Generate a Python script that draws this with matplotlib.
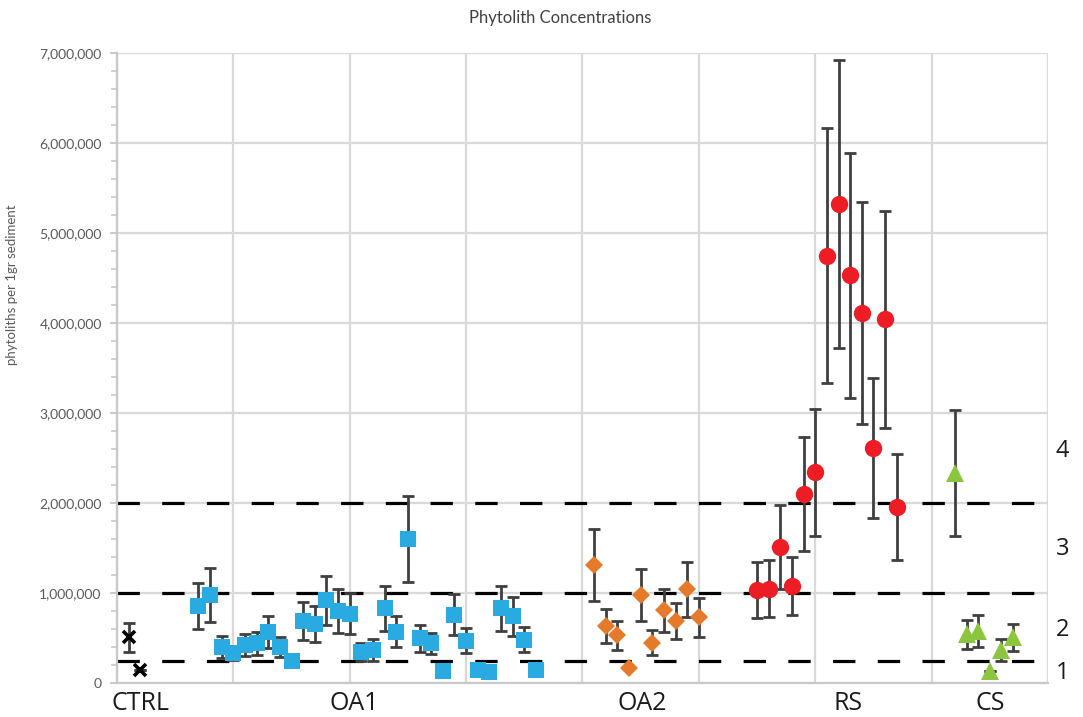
import matplotlib
matplotlib.use("Agg")
import matplotlib.pyplot as plt
from matplotlib.ticker import FuncFormatter, MultipleLocator

# sample index and values (phytoliths per 1 gr sediment) / standard deviations
ctrl_x = [1, 2]
ctrl_y = [510000, 140000]
ctrl_err = [160000, 0]

oa1_x = list(range(7, 37))
oa1_y = [856000, 978000, 400000, 330000, 420000, 440000, 570000, 400000, 240000, 690000,
         660000, 920000, 800000, 770000, 340000, 370000, 830000, 570000, 1600000, 500000,
         440000, 130000, 760000, 470000, 150000, 120000, 830000, 740000, 480000, 140000]
oa1_err = [260000, 300000, 120000, 70000, 120000, 130000, 180000, 110000, 0, 210000,
           200000, 270000, 240000, 230000, 100000, 120000, 250000, 170000, 480000, 150000,
           120000, 0, 230000, 140000, 0, 0, 250000, 220000, 140000, 0]

oa2_x = list(range(41, 51))
oa2_y = [1310000, 630000, 530000, 170000, 980000, 450000, 810000, 690000, 1040000, 730000]
oa2_err = [400000, 190000, 160000, 0, 290000, 140000, 240000, 200000, 310000, 220000]

rs_x = list(range(55, 68))
rs_y = [1030000, 1050000, 1510000, 1080000, 2100000, 2340000, 4750000, 5320000, 4530000,
        4110000, 2610000, 4040000, 1960000]
rs_err = [310000, 320000, 470000, 320000, 630000, 710000, 1420000, 1600000, 1360000,
          1230000, 780000, 1210000, 590000]

cs_x = list(range(72, 78))
cs_y = [2330000, 540000, 580000, 130000, 370000, 510000]
cs_err = [700000, 160000, 180000, 0, 120000, 150000]

thresholds = [2000000, 1000000, 250000]
group_names = ["CTRL", "OA1", "OA2", "RS", "CS"]
group_label_x = [2.0, 20.4, 45.1, 62.8, 75.0]
zone_names = ["4", "3", "2", "1"]
zone_label_y = [2580000, 1490000, 590000, 110000]

fig = plt.figure(figsize=(10.83, 7.17), dpi=100)
ax = fig.add_axes([0.108, 0.0474, 0.8597, 0.8786])

ax.set_xlim(0, 80)
ax.set_ylim(0, 7000000)
ax.xaxis.set_major_locator(MultipleLocator(10))
ax.yaxis.set_major_locator(MultipleLocator(1000000))
ax.yaxis.set_minor_locator(MultipleLocator(200000))
ax.grid(True, which="major", color="#d9d9d9", lw=1.6, zorder=0)
ax.set_axisbelow(True)

for s in ["top", "right"]:
    ax.spines[s].set_visible(False)
for s in ["left", "bottom"]:
    ax.spines[s].set_color("#c8c8c8")
    ax.spines[s].set_linewidth(1.6)

ax.tick_params(axis="x", which="both", length=0, labelbottom=False)
ax.tick_params(axis="y", which="major", length=5, color="#c8c8c8", width=1.4,
               labelsize=10, labelcolor="#595959", pad=6)
ax.tick_params(axis="y", which="minor", length=4, color="#c8c8c8", width=1.2)
ax.yaxis.set_major_formatter(FuncFormatter(lambda v, p: f"{int(v):,}"))
for lab in ax.get_yticklabels():
    lab.set_fontfamily("Lato")

ax.set_ylabel("phytoliths per 1gr sediment", fontsize=9.5, color="#595959",
              family="Lato")
ax.yaxis.set_label_coords(-0.106, 0.632)

for t in thresholds:
    ax.axhline(t, color="black", lw=2.3, dashes=(7, 7), zorder=2)

series = [
    (ctrl_x, ctrl_y, ctrl_err, "x", 9, "black"),
    (oa1_x, oa1_y, oa1_err, "s", 11.5, "#29abe2"),
    (oa2_x, oa2_y, oa2_err, "D", 9.5, "#e57a2b"),
    (rs_x, rs_y, rs_err, "o", 12.5, "#ee1c25"),
    (cs_x, cs_y, cs_err, "^", 12.5, "#8cc63f"),
]
for xs, ys, es, mk, ms, col in series:
    ax.errorbar(xs, ys, yerr=es, fmt="none", ecolor="#3f3f3f", elinewidth=2,
                capsize=4, capthick=2, zorder=3)
    if mk == "x":
        ax.plot(xs, ys, ls="none", marker=mk, ms=ms, mew=2.6, color=col, zorder=4)
    else:
        ax.plot(xs, ys, ls="none", marker=mk, ms=ms, mew=0, color=col, zorder=4)

for name, xp in zip(group_names, group_label_x):
    ax.text(xp, -90000, name, ha="center", va="top", fontsize=18,
            family="Open Sans", color="#1a1a1a")

for name, yp in zip(zone_names, zone_label_y):
    ax.text(1.008, yp, name, transform=ax.get_yaxis_transform(), ha="left",
            va="center", fontsize=17, family="Open Sans", color="#1a1a1a")

fig.text(0.517, 0.975, "Phytolith Concentrations", ha="center", va="center",
         fontsize=12, color="#404040", family="Lato")

fig.savefig("out.png", dpi=100)
